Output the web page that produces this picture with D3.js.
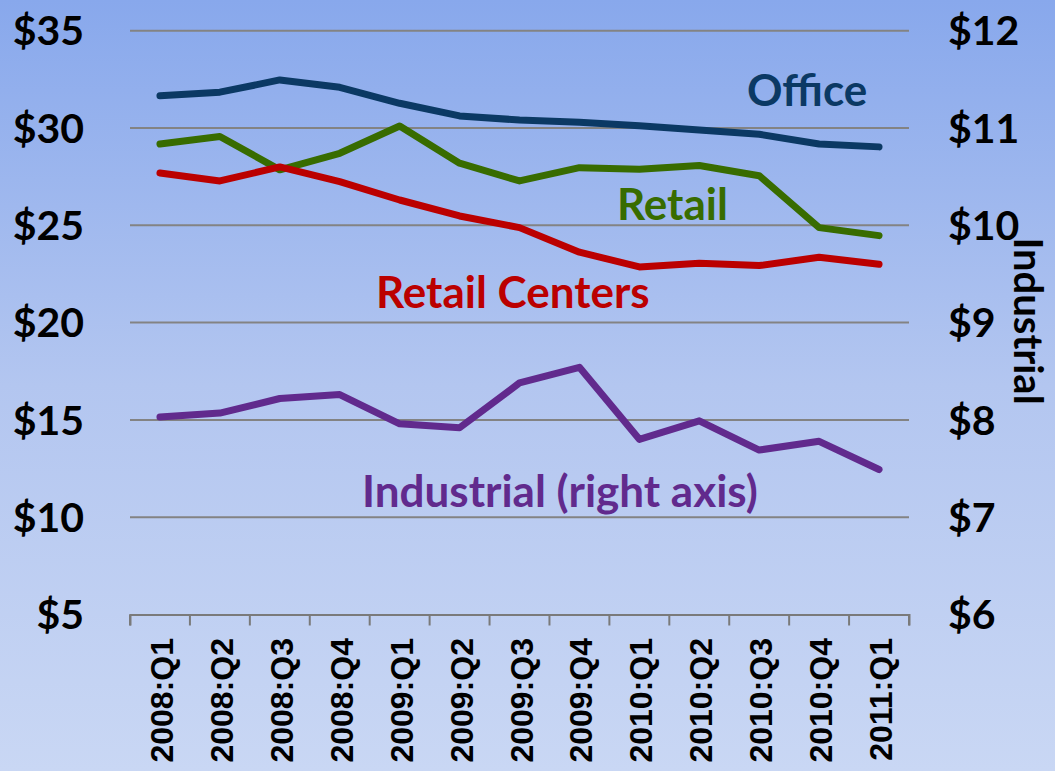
<!DOCTYPE html>
<html>
<head>
<meta charset="utf-8">
<script src="https://cdn.jsdelivr.net/npm/d3@7"></script>
<style>
  html, body { margin: 0; padding: 0; }
  body { width: 1055px; height: 771px; overflow: hidden; }
</style>
</head>
<body>
<svg id="chart" width="1055" height="771"></svg>
<script>
const quarters = ["2008:Q1","2008:Q2","2008:Q3","2008:Q4","2009:Q1","2009:Q2","2009:Q3","2009:Q4","2010:Q1","2010:Q2","2010:Q3","2010:Q4","2011:Q1"];
const office = [31.66, 31.84, 32.47, 32.09, 31.27, 30.62, 30.41, 30.3, 30.12, 29.9, 29.68, 29.18, 29.03];
const retail = [29.18, 29.56, 27.85, 28.7, 30.1, 28.19, 27.28, 27.96, 27.88, 28.07, 27.55, 24.88, 24.47];
const retailCenters = [27.69, 27.28, 28.0, 27.24, 26.3, 25.48, 24.88, 23.62, 22.86, 23.05, 22.93, 23.36, 23.0];
const industrial = [8.03, 8.07, 8.22, 8.26, 7.96, 7.92, 8.38, 8.54, 7.8, 7.99, 7.69, 7.78, 7.49];
const leftTicks = [5, 10, 15, 20, 25, 30, 35];
const rightTicks = [6, 7, 8, 9, 10, 11, 12];

const svg = d3.select("#chart");
const W = 1055, H = 771;

// background gradient
const defs = svg.append("defs");
const grad = defs.append("linearGradient").attr("id", "bg").attr("x1", 0).attr("y1", 0).attr("x2", 0).attr("y2", 1);
grad.append("stop").attr("offset", "0%").attr("stop-color", "#88a8ec");
grad.append("stop").attr("offset", "50%").attr("stop-color", "#b3c6f0");
grad.append("stop").attr("offset", "100%").attr("stop-color", "#c9d7f4");
svg.append("rect").attr("width", W).attr("height", H).attr("fill", "url(#bg)");

const plot = { left: 130, right: 909, top: 30.7, bottom: 614.5 };

const x = d3.scaleBand().domain(quarters).range([plot.left, plot.right]).padding(0);
const yL = d3.scaleLinear().domain([5, 35]).range([plot.bottom, plot.top]);
const yR = d3.scaleLinear().domain([6, 12]).range([plot.bottom, plot.top]);

// gridlines
svg.append("g").selectAll("line").data(leftTicks.filter(d => d > 5)).join("line")
  .attr("x1", plot.left).attr("x2", plot.right)
  .attr("y1", d => yL(d)).attr("y2", d => yL(d))
  .attr("stroke", "#838383").attr("stroke-width", 2);

// x axis
const xAxis = d3.axisBottom(x).tickSize(11).tickSizeOuter(11).tickFormat("");
const gx = svg.append("g").attr("transform", `translate(0,${plot.bottom})`).call(xAxis);
gx.select(".domain").attr("stroke", "#7a7a7a").attr("stroke-width", 2);
gx.selectAll(".tick").remove();
const edges = quarters.map(q => x(q)).concat([plot.right]);
gx.selectAll("line.edge").data(edges).join("line").attr("class", "edge")
  .attr("x1", d => d).attr("x2", d => d).attr("y1", 0).attr("y2", 11)
  .attr("stroke", "#7a7a7a").attr("stroke-width", 2);

// x labels (rotated)
svg.append("g").selectAll("text").data(quarters).join("text")
  .attr("transform", d => `translate(${x(d) + x.bandwidth() / 2 + 13},638) rotate(-90)`)
  .attr("text-anchor", "end")
  .attr("font-family", "'Liberation Sans', Arial, sans-serif")
  .attr("font-weight", "bold")
  .attr("font-size", 32)
  .attr("fill", "#000")
  .text(d => d);

// left y labels
const tickFont = "Lato, 'Open Sans', sans-serif";
svg.append("g").selectAll("text").data(leftTicks).join("text")
  .attr("x", 84).attr("y", d => yL(d)).attr("dy", "0.36em")
  .attr("text-anchor", "end")
  .attr("font-family", tickFont).attr("font-weight", "bold").attr("font-size", 41)
  .attr("fill", "#000")
  .text(d => "$" + d);

// right y labels
svg.append("g").selectAll("text").data(rightTicks).join("text")
  .attr("x", 948).attr("y", d => yR(d)).attr("dy", "0.36em")
  .attr("text-anchor", "start")
  .attr("font-family", tickFont).attr("font-weight", "bold").attr("font-size", 41)
  .attr("fill", "#000")
  .text(d => "$" + d);

// right axis title
svg.append("text")
  .attr("transform", "translate(1014,321) rotate(90)")
  .attr("text-anchor", "middle")
  .attr("font-family", tickFont).attr("font-weight", "bold").attr("font-size", 40)
  .attr("fill", "#000")
  .text("Industrial");

// lines
const cx = q => x(q) + x.bandwidth() / 2;
const lineL = d3.line().x((d, i) => cx(quarters[i])).y(d => yL(d));
const lineR = d3.line().x((d, i) => cx(quarters[i])).y(d => yR(d));

const series = [
  { data: office, gen: lineL, color: "#0b3964" },
  { data: retail, gen: lineL, color: "#386c00" },
  { data: retailCenters, gen: lineL, color: "#bb0000" },
  { data: industrial, gen: lineR, color: "#612a8d" }
];
svg.append("g").selectAll("path").data(series).join("path")
  .attr("d", s => s.gen(s.data))
  .attr("fill", "none")
  .attr("stroke", s => s.color)
  .attr("stroke-width", 7)
  .attr("stroke-linecap", "round")
  .attr("stroke-linejoin", "round");

// series labels
const labels = [
  { text: "Office", x: 747, y: 106, color: "#0b3964" },
  { text: "Retail", x: 617, y: 220, color: "#386c00" },
  { text: "Retail Centers", x: 376, y: 308, color: "#bb0000" },
  { text: "Industrial (right axis)", x: 362, y: 507, color: "#612a8d" }
];
svg.append("g").selectAll("text").data(labels).join("text")
  .attr("x", d => d.x).attr("y", d => d.y)
  .attr("font-family", tickFont).attr("font-weight", "bold").attr("font-size", 44)
  .attr("fill", d => d.color)
  .text(d => d.text);
</script>
</body>
</html>
